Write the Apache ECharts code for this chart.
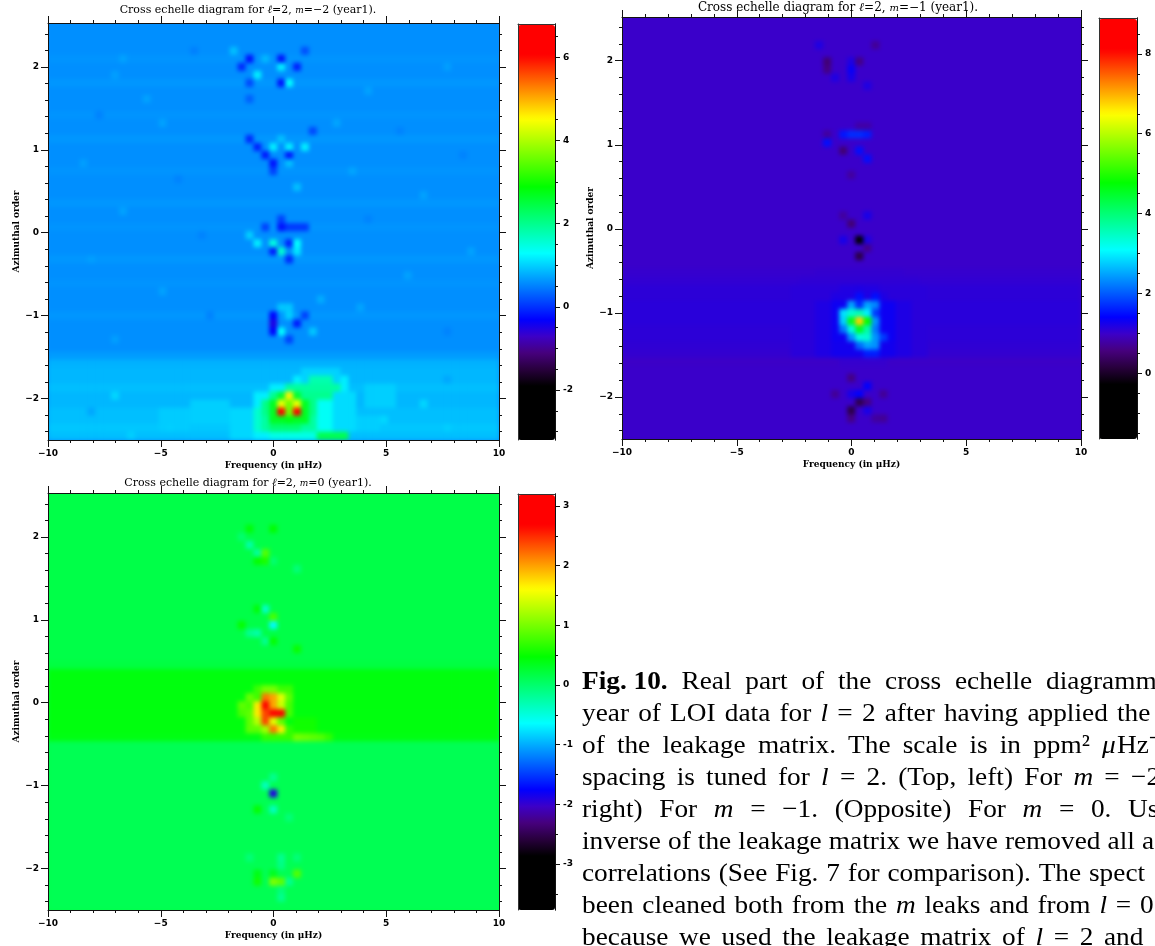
<!DOCTYPE html>
<html>
<head>
<meta charset="utf-8">
<title>Cross echelle diagrams</title>
<script src="https://cdn.jsdelivr.net/npm/echarts@6/dist/echarts.min.js"></script>
<style>
  html, body { margin: 0; padding: 0; background: #fff; overflow: hidden; }
  #page { position: relative; width: 1155px; height: 946px; overflow: hidden; }
  .clip { position: absolute; overflow: hidden; }
  .heat { position: absolute; left: -10px; top: -10px; filter: blur(2.2px); }
  #overlay { position: absolute; left: 0; top: 0; width: 1155px; height: 946px; }
</style>
</head>
<body>
<div id="page"><div id="overlay"></div></div>
<script>
// grid of the echelle cells
const nCols = 57
const nRows = 52

const xTicks = [-10, -5, 0, 5, 10]
const yTicks = [-2, -1, 0, 1, 2]
const yMinor = [-2.4, -2.2, -1.8, -1.6, -1.4, -1.2, -0.8, -0.6, -0.4, -0.2, 0.2, 0.4, 0.6, 0.8, 1.2, 1.4, 1.6, 1.8, 2.2, 2.4]

// background level of each row, top to bottom
const bandM2 = [.6,.6,.6,.6,.63,.6,.6,.65,.6,.6, .6,.63,.6,.6,.65,.6,.6,.6,.63,.6, .6,.6,.65,.6,.6,.63,.6,.6,.6,.65, .6,.6,.63,.6,.6,.6,.65,.6,.6,.6, .6,.68, .82,.85,.85,.9,.85,.85,.9,.9,.95,.9]
const bandM1 = [1,1,1,1,1,1,1,1,1,1, 1,1,1,1,1,1,1,1,1,1, 1,1,1,1,1,1,1,1,1,1, 1,1.03,1.06,1.1,1.1,1.12,1.12,1.12,1.1,1.1, 1.08,1.05, .98,1,1,1,1,1,1,1,1,1]
const bandM0 = [.17,.17,.17,.17,.17,.17,.17,.17,.17,.17, .17,.17,.17,.17,.17,.17,.17,.17,.17,.17, .17,.2,.42,.42,.42,.42,.42,.42,.42,.42, .4,.12,.12,.12,.12,.12,.12,.12,.12,.12, .12,.12,.12,.12,.12,.12,.12,.12,.12,.12,.12,.12]

// [row0, row1, col0, col1, value] broad areas
const areasM2 = [
  [47,49,18,22,1.0], [48,50,14,17,.98], [45,47,40,43,1.0], [49,50,38,41,1.0],
  [48,51,23,25,1.05], [46,51,26,27,1.2], [45,51,28,35,1.2], [44,46,31,37,1.2], [46,50,36,38,1.08], [43,44,32,36,1.02],
  [47,50,34,35,1.35], [48,50,26,27,1.6],
  [49,50,27,33,1.9], [47,48,27,33,2.05], [46,46,28,35,2.0], [45,45,30,36,1.9], [44,44,33,35,1.8],
  [47,49,28,32,2.7], [46,46,29,31,2.6], [50,50,28,31,2.2],
  [51,51,28,33,1.45], [51,51,34,37,2.4]
]
const areasM1 = [
  [31,31,24,34,1.05], [32,32,22,36,1.08], [33,41,21,37,1.12],
  [33,33,27,31,1.18], [34,34,26,32,1.2], [35,41,24,35,1.2], [35,39,26,33,1.32], [40,41,26,33,1.28], [42,42,27,32,1.03]
]
const areasM0 = [
  [24,26,26,30,.75], [26,27,24,30,.8], [27,29,25,29,.9], [29,30,27,30,.7], [28,29,31,33,.55]
]

// [row, col, value] single cells
const spotsM2 = [
  [4,25,-.2],[5,24,-.05],[6,26,1.2],[4,27,.85],[4,29,-.2],[5,29,1.2],[5,31,-.1],[7,29,-.2],[7,30,1.3],[7,25,.15],[3,32,.2],[3,23,.9],[9,25,.3],
  [14,25,-.05],[15,26,-.1],[15,28,1.2],[15,30,1.2],[15,32,1.2],[16,27,-.15],[16,30,-.15],[17,28,-.2],[18,28,.1],[14,29,.9],[17,30,.9],[13,33,.15],[20,31,.9],
  [25,29,-.2],[25,30,.05],[25,31,.05],[25,32,.05],[25,27,.1],[26,25,1.0],[27,26,1.2],[27,28,1.5],[28,29,1.6],[27,31,1.3],[28,31,1.15],[27,30,-.1],[28,28,-.15],[29,30,-.05],[24,29,.1],
  [35,29,.95],[35,30,.95],[36,28,-.3],[37,28,-.5],[38,28,-.3],[37,31,-.15],[36,32,.1],[38,29,1.3],[36,30,1.0],[39,30,.1],[38,33,.95],
  [48,29,6.8],[48,31,6.8],[46,30,4.6],[47,29,4.4],[47,31,4.4],[47,30,3.6],[48,30,3.6],[49,30,2.8],
  // faint mottling of the background
  [4,9,.72],[6,8,.7],[11,6,.52],[12,14,.72],[3,18,.5],[9,12,.72],[17,4,.7],[19,16,.52],[23,9,.72],[26,19,.52],[29,5,.7],[33,14,.72],[36,20,.52],[39,8,.7],
  [8,40,.72],[13,44,.52],[21,47,.72],[24,40,.52],[31,45,.72],[35,39,.74],[38,50,.52],[5,50,.7],[16,52,.52],[28,53,.72],[18,38,.74],[34,34,.78],[12,36,.74],
  [46,8,1.05],[48,5,.75],[50,15,1.0],[44,50,.75],[47,47,1.05],[49,42,1.05],[51,10,1.0],[50,50,1.0]
]
const spotsM1 = [
  [5,25,.5],[6,25,.6],[5,29,.6],[3,31,.7],[6,28,1.35],[7,28,1.25],[7,26,1.2],[8,30,1.2],[3,24,1.2],[5,28,1.2],
  [14,29,1.7],[14,28,1.7],[14,30,1.6],[14,27,1.55],[15,25,1.5],[16,29,1.5],[17,30,1.5],[16,27,.5],[14,25,.75],[13,29,.8],[13,30,.8],[19,28,.75],
  [27,29,-.5],[25,28,.5],[29,29,.2],[28,30,.65],[27,27,1.25],[24,30,1.25],[27,30,1.2],[24,27,.75],
  [35,28,2.5],[35,30,2.5],[35,31,2.3],[35,29,1.7],
  [36,27,2.9],[36,28,3.4],[36,29,3.6],[36,30,3.0],[36,31,1.8],
  [37,27,2.8],[37,28,4.6],[37,29,6.8],[37,30,4.8],[37,31,2.4],
  [38,27,2.2],[38,28,3.3],[38,29,4.6],[38,30,3.7],[38,31,2.2],
  [39,28,2.4],[39,29,3.3],[39,30,3.4],[39,31,2.4],[39,32,1.8],
  [40,29,2.1],[40,30,2.5],[40,31,2.4],[41,30,1.6],[41,31,1.6],
  [34,29,1.5],[34,31,1.5],[33,29,1.2],
  [44,28,.6],[46,29,1.4],[45,30,1.4],[46,26,.7],[46,32,.7],[47,29,.25],[48,28,.2],[47,30,.6],[49,32,.7],[49,31,.75],[49,28,.6],[48,30,1.25],[46,28,1.25]
]
const spotsM0 = [
  [24,27,1.0],[24,28,1.0],
  [25,27,2.2],[25,28,2.0],[25,29,1.5],
  [26,26,1.7],[26,27,3.0],[26,28,2.0],[26,29,1.4],
  [27,26,1.7],[27,27,2.4],[27,28,3.1],[27,29,2.7],
  [28,26,1.3],[28,27,2.4],[28,28,1.5],
  [29,27,1.2],[29,28,2.2],[29,29,1.7],
  [25,25,.95],[26,24,.9],[25,30,.9],
  [30,31,1.0],[30,32,.95],[30,33,.9],[30,34,.85],[30,35,.7],
  [37,28,-1.9],[36,27,-.35],[35,28,-.15],[39,28,-.35],[40,30,-.05],[39,26,.5],
  [45,29,-.15],[45,25,-.05],[45,31,-.05],[46,29,-.1],[48,28,1.05],[48,29,.9],[47,31,.85],[48,30,-.15],[48,26,.55],[47,26,.4],[47,28,.35],[50,29,-.15],[49,29,-.05],
  [6,25,-.25],[5,24,0],[7,26,-.2],[7,27,.85],[8,26,.5],[4,25,.45],[4,28,.48],[9,31,-.05],[8,28,0],[8,27,.6],
  [14,27,-.4],[15,28,.8],[16,28,-.65],[17,25,-.15],[17,26,-.25],[16,24,.5],[14,26,.45],[19,31,.52],[18,28,.5],[18,27,-.15]
]

const cbMain = [
  {ticks: [-2, 0, 2, 4, 6], min: -3.2, max: 6.8, minor: [-3, -2.5, -1.5, -1, -.5, .5, 1, 1.5, 2.5, 3, 3.5, 4.5, 5, 5.5, 6.5]},
  {ticks: [0, 2, 4, 6, 8], min: -1.65, max: 8.9, minor: [-1.5, -1, -.5, .5, 1, 1.5, 2.5, 3, 3.5, 4.5, 5, 5.5, 6.5, 7, 7.5, 8.5]},
  {ticks: [-3, -2, -1, 0, 1, 2, 3], min: -3.77, max: 3.2, minor: [-3.5, -2.5, -1.5, -.5, .5, 1.5, 2.5]}
]

// placement of the three panels
const panels = [
  {left: 48, top: 23, w: 451, h: 417, yMin: -2.5, yMax: 2.53, band: bandM2, areas: areasM2, spots: spotsM2,
   bar: {left: 518, top: 24, w: 37, h: 416}, m: '−2', tx: 248, ty: 5, tSize: 11, bg: '#0a8cff'},
  {left: 622, top: 17, w: 459, h: 422, yMin: -2.5, yMax: 2.52, band: bandM1, areas: areasM1, spots: spotsM1,
   bar: {left: 1099, top: 18, w: 38, h: 421}, m: '−1', tx: 838, ty: 2, tSize: 12, bg: '#3c00c8'},
  {left: 48, top: 493, w: 451, h: 417, yMin: -2.5, yMax: 2.53, band: bandM0, areas: areasM0, spots: spotsM0,
   bar: {left: 518, top: 494, w: 37, h: 416}, m: '0', tx: 248, ty: 478, tSize: 11, bg: '#00ff46'}
]

const colorStops = [[0,0,0,0],[.13,0,0,0],[.17,40,0,60],[.21,70,0,125],[.25,60,0,200],[.29,0,0,255],[.45,0,255,255],[.61,0,255,0],[.773,255,255,0],[.927,255,0,0],[1,255,0,0]]

function buildRamp() {
  const out = []
  for (let i = 0; i <= 100; i++) {
    const f = i / 100
    let k = 0
    while (k < colorStops.length - 2 && colorStops[k + 1][0] < f) k++
    const a = colorStops[k], b = colorStops[k + 1]
    const t = Math.min(1, Math.max(0, (f - a[0]) / (b[0] - a[0])))
    out.push('rgb(' + [1, 2, 3].map(c => Math.round(a[c] + (b[c] - a[c]) * t)).join(',') + ')')
  }
  return out
}
const ramp = buildRamp()

function buildCells(p) {
  const rows = p.band.map(v => new Array(nCols).fill(v))
  p.areas.forEach(a => {
    for (let r = a[0]; r <= a[1]; r++) for (let c = a[2]; c <= a[3]; c++) rows[r][c] = a[4]
  })
  p.spots.forEach(s => { rows[s[0]][s[1]] = s[2] })
  const cells = []
  rows.forEach((row, r) => row.forEach((v, c) => cells.push([c, r, v])))
  return cells
}

// heat layers sit under the axes, softened like the original rendering
const page = document.getElementById('page')
panels.forEach((p, i) => {
  const clip = document.createElement('div')
  clip.className = 'clip'
  clip.style.cssText = 'left:' + p.left + 'px;top:' + p.top + 'px;width:' + p.w + 'px;height:' + p.h + 'px'
  const el = document.createElement('div')
  el.className = 'heat'
  el.style.width = (p.w + 20) + 'px'
  el.style.height = (p.h + 20) + 'px'
  clip.appendChild(el)
  page.insertBefore(clip, page.firstChild)
  const chart = echarts.init(el, null, {renderer: 'canvas'})
  chart.setOption({
    animation: false,
    backgroundColor: p.bg,
    grid: {left: 10, top: 10, width: p.w, height: p.h},
    xAxis: {type: 'category', show: false, data: Array.from({length: nCols}, (_, k) => k)},
    yAxis: {type: 'category', show: false, inverse: true, data: Array.from({length: nRows}, (_, k) => k)},
    visualMap: {show: false, min: cbMain[i].min, max: cbMain[i].max, dimension: 2, inRange: {color: ramp}},
    series: [{type: 'heatmap', data: buildCells(p), progressive: 0, emphasis: {disabled: true}}]
  })
})

const inkColor = '#111'
const tickFont = {fontFamily: 'DejaVu Sans', fontSize: 9, fontWeight: 'bold', color: '#000'}

function xAxisPair(gi) {
  const base = {
    type: 'value', gridIndex: gi, min: xTicks[0], max: xTicks[4], interval: 5, z: 6,
    splitLine: {show: false}, axisLine: {onZero: false, lineStyle: {color: inkColor, width: 1}},
    axisTick: {length: 7, lineStyle: {color: inkColor}},
    minorTick: {show: true, splitNumber: 5, length: 3, lineStyle: {color: inkColor}}
  }
  return [
    Object.assign({}, base, {
      position: 'bottom', name: 'Frequency (in μHz)', nameLocation: 'center', nameGap: 21,
      nameTextStyle: {fontFamily: 'DejaVu Serif', fontSize: 9, fontWeight: 'bold', color: '#000'},
      axisLabel: Object.assign({margin: 9, formatter: v => String(v).replace('-', '−')}, tickFont)
    }),
    Object.assign({}, base, {position: 'top', axisLabel: {show: false}})
  ]
}

function yAxisSet(gi, p) {
  const base = {
    type: 'value', gridIndex: gi, min: p.yMin, max: p.yMax, z: 6,
    splitLine: {show: false}, axisLine: {onZero: false, lineStyle: {color: inkColor, width: 1}}
  }
  const fmt = v => String(v).replace('-', '−')
  const left = Object.assign({}, base, {
    position: 'left',
    axisTick: {length: 7, customValues: yTicks, lineStyle: {color: inkColor}},
    axisLabel: Object.assign({margin: 9, customValues: yTicks, formatter: fmt}, tickFont),
    name: 'Azimuthal order', nameLocation: 'center', nameGap: 27,
    nameTextStyle: {fontFamily: 'DejaVu Serif', fontSize: 9, fontWeight: 'bold', color: '#000'}
  })
  return [
    left,
    Object.assign({}, base, {position: 'left', axisTick: {length: 3, customValues: yMinor, lineStyle: {color: inkColor}}, axisLabel: {show: false}}),
    Object.assign({}, base, {position: 'right', axisTick: {length: 7, customValues: yTicks, lineStyle: {color: inkColor}}, axisLabel: {show: false}}),
    Object.assign({}, base, {position: 'right', axisTick: {length: 3, customValues: yMinor, lineStyle: {color: inkColor}}, axisLabel: {show: false}})
  ]
}

const grids = [], xAxes = [], yAxes = [], maps = [], titles = []

panels.forEach((p, i) => {
  grids.push({left: p.left, top: p.top, width: p.w, height: p.h})
  xAxisPair(i).forEach(a => xAxes.push(a))
  yAxisSet(i, p).forEach(a => yAxes.push(a))
  titles.push({
    left: p.tx, top: p.ty, textAlign: 'center', padding: 0,
    text: 'Cross echelle diagram for {i|ℓ}=2, {s|m}=' + p.m + ' (year1).',
    textStyle: {
      fontFamily: 'DejaVu Serif', fontSize: p.tSize, fontWeight: 'normal', color: '#000',
      rich: {i: {fontFamily: 'DejaVu Serif', fontSize: p.tSize, fontStyle: 'italic', color: '#000'},
             s: {fontFamily: 'DejaVu Serif', fontSize: p.tSize - 2, fontStyle: 'italic', color: '#000'}}
    }
  })
})

// colour bars: the visualMap draws the ramp, value axes draw the ticks
panels.forEach((p, i) => {
  const cb = cbMain[i], gi = panels.length + i
  grids.push({left: p.bar.left, top: p.bar.top, width: p.bar.w, height: p.bar.h})
  maps.push({
    type: 'continuous', show: true, seriesIndex: [], min: cb.min, max: cb.max, calculable: false,
    left: p.bar.left, top: p.bar.top + 1, itemWidth: p.bar.w, itemHeight: p.bar.h - 1, padding: 0,
    text: null, showLabel: false, realtime: false, hoverLink: false, inRange: {color: ramp}
  })
  xAxes.push({type: 'value', gridIndex: gi, position: 'top', min: 0, max: 1, z: 6,
    axisLine: {onZero: false, lineStyle: {color: '#333'}}, axisTick: {show: false}, axisLabel: {show: false}, splitLine: {show: false}})
  yAxes.push({type: 'value', gridIndex: gi, position: 'right', min: cb.min, max: cb.max, z: 6,
    splitLine: {show: false}, axisLine: {onZero: false, lineStyle: {color: inkColor}},
    axisTick: {length: 5, customValues: cb.ticks, lineStyle: {color: inkColor}},
    axisLabel: Object.assign({margin: 8, customValues: cb.ticks}, tickFont)})
  yAxes.push({type: 'value', gridIndex: gi, position: 'right', min: cb.min, max: cb.max, z: 6,
    splitLine: {show: false}, axisLine: {onZero: false, lineStyle: {color: inkColor}},
    axisTick: {length: 3, customValues: cb.minor, lineStyle: {color: inkColor}}, axisLabel: {show: false}})
  yAxes.push({type: 'value', gridIndex: gi, position: 'left', min: cb.min, max: cb.max, z: 6,
    splitLine: {show: false}, axisLine: {onZero: false, lineStyle: {color: '#333'}}, axisTick: {show: false}, axisLabel: {show: false}})
})

// caption: words per line ('b' bold, 'i' italic), and where the last spaced word starts
const captionLines = [
  [['Fig. 10.','b'],['Real'],['part'],['of'],['the'],['cross'],['echelle'],['diagramm']],
  [['year'],['of'],['LOI'],['data'],['for'],['l','i'],['='],['2'],['after'],['having'],['applied'],['the']],
  [['of'],['the'],['leakage'],['matrix.'],['The'],['scale'],['is'],['in'],['ppm²'],['μ','i']],
  [['spacing'],['is'],['tuned'],['for'],['l','i'],['='],['2.'],['(Top,'],['left)'],['For'],['m','i'],['='],['−2']],
  [['right)'],['For'],['m','i'],['='],['−1.'],['(Opposite)'],['For'],['m','i'],['='],['0.'],['Us']],
  [['inverse'],['of'],['the'],['leakage'],['matrix'],['we'],['have'],['removed'],['all'],['a']],
  [['correlations'],['(See'],['Fig.'],['7'],['for'],['comparison).'],['The'],['spect']],
  [['been'],['cleaned'],['both'],['from'],['the'],['m','i'],['leaks'],['and'],['from'],['l','i'],['='],['0']],
  [['because'],['we'],['used'],['the'],['leakage'],['matrix'],['of'],['l','i'],['='],['2'],['and']]
]
const captionLastX = [1046, 1117, 1102, 1131, 1128, 1142, 1089, 1140, 1104]
const captionFont = 'Liberation Serif'
const captionSize = 26
const captionStretch = 1.05
const captionLeft = 582
const captionTop = 682.5

const measure = document.createElement('canvas').getContext('2d')
function wordFont(kind) {
  return (kind === 'b' ? 'bold ' : kind === 'i' ? 'italic ' : '') + captionSize + 'px "' + captionFont + '"'
}
function wordWidth(word) {
  measure.font = wordFont(word[1])
  return measure.measureText(word[0]).width * captionStretch
}

const captionItems = []
function pushWord(text, kind, x, y) {
  captionItems.push({
    type: 'text', x: x, y: y, scaleX: captionStretch, silent: true,
    style: {
      text: text, fontFamily: captionFont, fontSize: captionSize, fill: '#000', verticalAlign: 'middle',
      fontWeight: kind === 'b' ? 'bold' : 'normal', fontStyle: kind === 'i' ? 'italic' : 'normal'
    }
  })
}
captionLines.forEach((line, k) => {
  const y = captionTop + k * 31.9
  let used = 0
  line.slice(0, -1).forEach(w => { used += wordWidth(w) })
  const gap = (captionLastX[k] - captionLeft - used) / (line.length - 1)
  let x = captionLeft
  line.forEach(w => {
    pushWord(w[0], w[1], x, y)
    x += wordWidth(w) + gap
  })
})
// units run on directly after the italic mu
pushWord('Hz⁻', '', 1117, captionTop + 2 * 31.9)

const overlay = echarts.init(document.getElementById('overlay'), null, {renderer: 'canvas'})
overlay.setOption({
  animation: false,
  title: titles,
  grid: grids,
  xAxis: xAxes,
  yAxis: yAxes,
  visualMap: maps,
  graphic: captionItems
})
</script>
</body>
</html>
